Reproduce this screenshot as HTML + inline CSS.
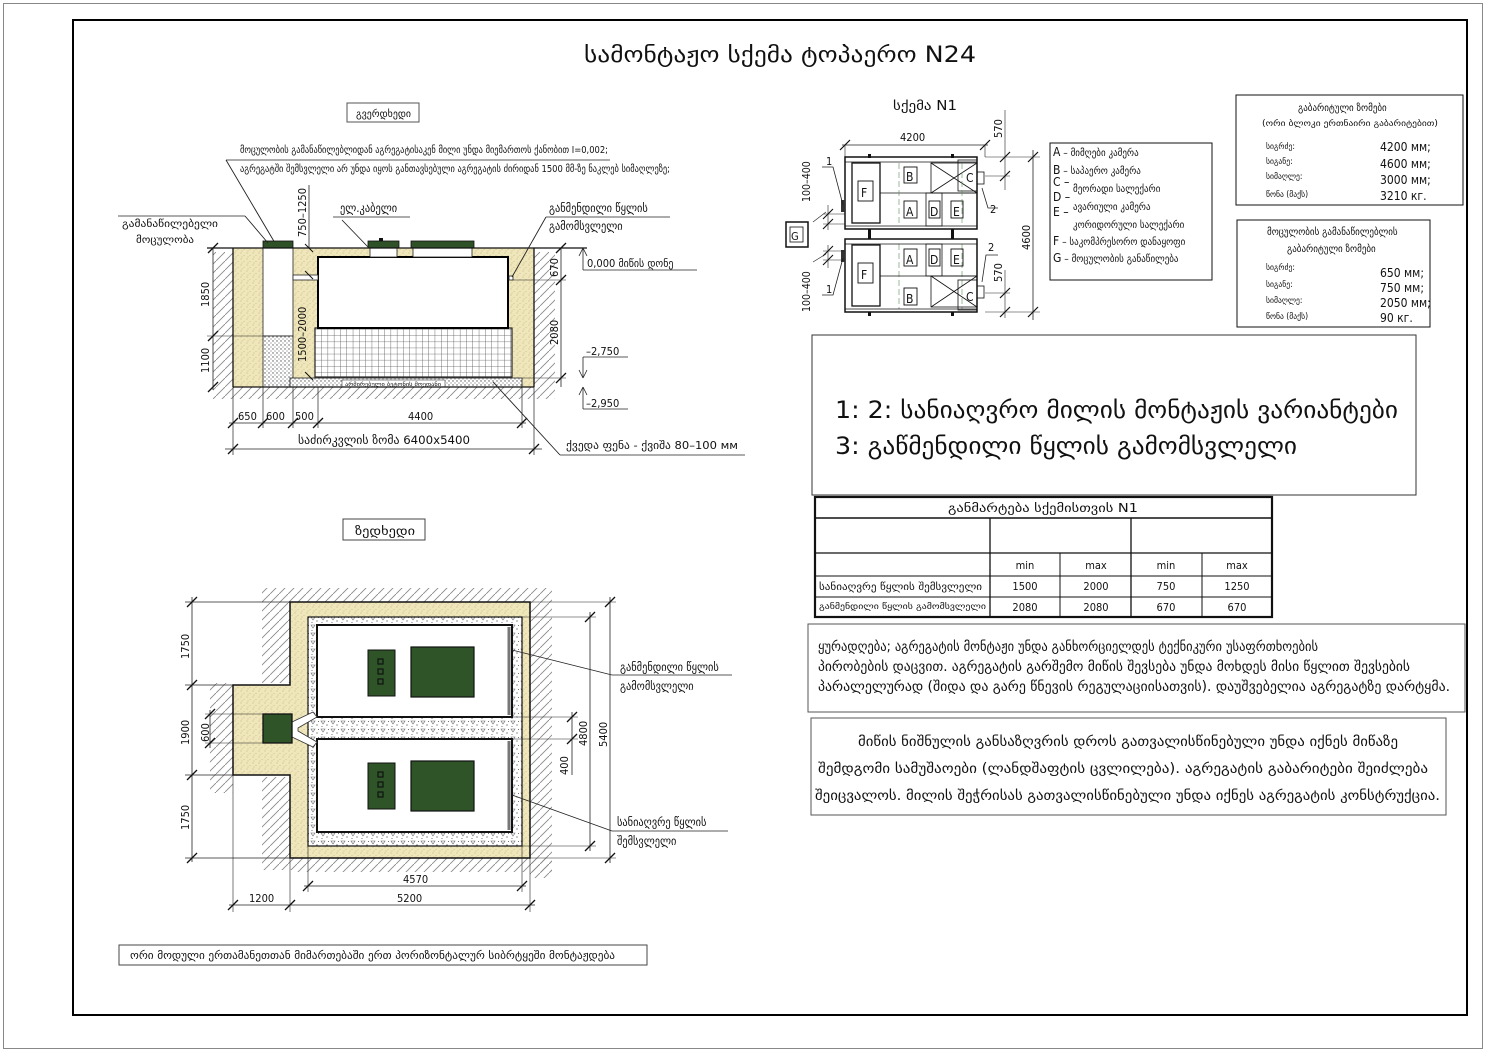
<!DOCTYPE html>
<html><head><meta charset="utf-8">
<style>
html,body{margin:0;padding:0;background:#fff;}
svg{display:block;}
text{font-family:"DejaVu Sans Condensed","DejaVu Sans","Liberation Sans",sans-serif;fill:#111;}
</style></head>
<body>
<svg width="1490" height="1053" viewBox="0 0 1490 1053" xmlns="http://www.w3.org/2000/svg">
<defs>
<pattern id="hatch" width="9" height="9" patternUnits="userSpaceOnUse">
<path d="M0,9 L9,0" stroke="#8a8a8a" stroke-width="0.9"/>
</pattern>
<pattern id="sand" width="6" height="6" patternUnits="userSpaceOnUse">
<rect width="6" height="6" fill="#efe6bb"/>
<circle cx="1" cy="1" r="0.6" fill="#c8bd86"/><circle cx="4" cy="3.5" r="0.6" fill="#d2c690"/>
<circle cx="2" cy="5" r="0.5" fill="#c0b47a"/>
</pattern>
<pattern id="gravel" width="10" height="8" patternUnits="userSpaceOnUse">
<rect width="10" height="8" fill="#fff"/>
<path d="M1,1 L5,1 L3,4 Z" fill="none" stroke="#666" stroke-width="0.6"/>
<circle cx="7" cy="5" r="0.6" fill="#444"/><circle cx="8.5" cy="1.5" r="0.5" fill="#444"/><circle cx="2" cy="6.5" r="0.5" fill="#444"/>
</pattern>
<pattern id="gravel2" width="4" height="4" patternUnits="userSpaceOnUse">
<rect width="4" height="4" fill="#fff"/>
<circle cx="1" cy="1" r="0.7" fill="#555"/><circle cx="3" cy="3" r="0.6" fill="#777"/>
</pattern>
<pattern id="grid" width="6.3" height="6.1" patternUnits="userSpaceOnUse">
<rect width="6.3" height="6.1" fill="#fff"/>
<path d="M0,0 V6.1 M0,0 H6.3" stroke="#555" stroke-width="0.8"/>
</pattern>
</defs>

<rect x="3.5" y="3.5" width="1479" height="1045" fill="none" stroke="#888" stroke-width="1"/>
<rect x="73" y="20" width="1394" height="995" fill="none" stroke="#000" stroke-width="2"/>

<text x="584" y="62" font-size="22" textLength="392" lengthAdjust="spacingAndGlyphs">სამონტაჟო სქემა ტოპაერო N24</text>

<!-- SECTION VIEW -->
<rect x="347" y="103" width="72" height="19" fill="#fff" stroke="#555" stroke-width="1"/>
<text x="356" y="117" font-size="9.5" textLength="55" lengthAdjust="spacingAndGlyphs">გვერდხედი</text>

<text x="240" y="153" font-size="10" textLength="368" lengthAdjust="spacingAndGlyphs">მოცულობის გამანაწილებლიდან აგრეგატისაკენ მილი უნდა მიემართოს ქანობით I=0,002;</text>
<text x="240" y="172" font-size="10" textLength="430" lengthAdjust="spacingAndGlyphs">აგრეგატში შემსვლელი არ უნდა იყოს განთავსებული აგრეგატის ძირიდან 1500 მმ-ზე ნაკლებ სიმაღლეზე;</text>
<line x1="226" y1="160" x2="610" y2="160" stroke="#222" stroke-width="0.8"/>
<line x1="226" y1="160" x2="298" y2="282" stroke="#222" stroke-width="0.9"/>

<rect x="213" y="252" width="20" height="135" fill="url(#hatch)"/>
<rect x="534" y="252" width="21" height="135" fill="url(#hatch)"/>
<rect x="213" y="387" width="342" height="12" fill="url(#hatch)"/>
<rect x="233" y="248" width="301" height="139" fill="url(#sand)"/>
<rect x="263" y="248" width="30" height="88" fill="#fff" stroke="#222" stroke-width="0.8"/>
<rect x="263" y="336" width="30" height="51" fill="url(#gravel2)" stroke="#222" stroke-width="0.8"/>
<rect x="290" y="378" width="232" height="9" fill="url(#gravel2)" stroke="#222" stroke-width="0.8"/>
<rect x="342" y="380" width="103" height="7" fill="#fff" stroke="#444" stroke-width="0.6"/>
<text x="345" y="386" font-size="5" textLength="96" lengthAdjust="spacingAndGlyphs">არმირებული ბეტონის მოედანი</text>
<rect x="315" y="328" width="197" height="49" fill="url(#grid)" stroke="#222" stroke-width="1.2"/>
<rect x="318" y="257" width="190" height="71" fill="#fff" stroke="#000" stroke-width="2"/>
<rect x="293" y="275" width="25" height="5" fill="#fff" stroke="#222" stroke-width="0.8"/>
<rect x="509" y="276" width="4" height="4" fill="#fff" stroke="#222" stroke-width="0.8"/>
<rect x="370" y="248" width="27" height="9" fill="#fff" stroke="#222" stroke-width="0.8"/>
<rect x="413" y="248" width="59" height="9" fill="#fff" stroke="#222" stroke-width="0.8"/>
<rect x="263" y="241" width="30" height="7" fill="#2f5128" stroke="#111" stroke-width="0.8"/>
<rect x="368" y="241" width="31" height="7" fill="#2f5128" stroke="#111" stroke-width="0.8"/>
<rect x="379" y="238" width="4" height="3" fill="#111"/>
<rect x="411" y="241" width="63" height="7" fill="#2f5128" stroke="#111" stroke-width="0.8"/>
<line x1="207" y1="248" x2="587" y2="248" stroke="#111" stroke-width="1.2"/>
<line x1="233" y1="248" x2="233" y2="387" stroke="#111" stroke-width="1.3"/>
<line x1="534" y1="248" x2="534" y2="387" stroke="#111" stroke-width="1.3"/>
<line x1="233" y1="387" x2="534" y2="387" stroke="#111" stroke-width="1.3"/>

<line x1="213" y1="248" x2="213" y2="390" stroke="#222" stroke-width="0.8"/>
<line x1="207" y1="336" x2="263" y2="336" stroke="#222" stroke-width="0.6"/>
<path d="M208,253 L218,243 M208,341 L218,331 M208,392 L218,382" stroke="#111" stroke-width="1.3"/>
<text transform="translate(209,307) rotate(-90)" font-size="11">1850</text>
<text transform="translate(209,373) rotate(-90)" font-size="11">1100</text>
<line x1="309" y1="185" x2="309" y2="248" stroke="#222" stroke-width="0.8"/>
<text transform="translate(306,237) rotate(-90)" font-size="11">750–1250</text>
<text transform="translate(306,362) rotate(-90)" font-size="11">1500–2000</text>
<path d="M305,244 L313,252 M305,271 L313,279 M305,372 L313,380" stroke="#111" stroke-width="1"/>

<line x1="561" y1="248" x2="561" y2="387" stroke="#222" stroke-width="0.8"/>
<line x1="513" y1="280" x2="566" y2="280" stroke="#222" stroke-width="0.6"/>
<line x1="522" y1="378" x2="566" y2="378" stroke="#222" stroke-width="0.6"/>
<path d="M556,253 L566,243 M556,285 L566,275 M556,383 L566,373" stroke="#111" stroke-width="1.3"/>
<text transform="translate(558,277) rotate(-90)" font-size="11">670</text>
<text transform="translate(558,345) rotate(-90)" font-size="11">2080</text>
<line x1="583" y1="248" x2="583" y2="270" stroke="#222" stroke-width="0.8"/>
<line x1="583" y1="270" x2="697" y2="270" stroke="#222" stroke-width="0.8"/>
<path d="M583,248 L579,256 M583,248 L587,256" stroke="#222" stroke-width="0.8" fill="none"/>
<text x="587" y="267" font-size="11">0,000  მიწის დონე</text>
<line x1="583" y1="357" x2="583" y2="378" stroke="#222" stroke-width="0.8"/>
<line x1="583" y1="357" x2="628" y2="357" stroke="#222" stroke-width="0.8"/>
<path d="M583,378 L579,370 M583,378 L587,370" stroke="#222" stroke-width="0.8" fill="none"/>
<text x="586" y="355" font-size="11">–2,750</text>
<line x1="583" y1="387" x2="583" y2="409" stroke="#222" stroke-width="0.8"/>
<line x1="583" y1="409" x2="628" y2="409" stroke="#222" stroke-width="0.8"/>
<path d="M583,387 L579,395 M583,387 L587,395" stroke="#222" stroke-width="0.8" fill="none"/>
<text x="586" y="407" font-size="11">–2,950</text>

<path d="M233,387 V455 M263,387 V428 M293,387 V428 M318,387 V428 M522,387 V428 M534,387 V455" stroke="#222" stroke-width="0.7"/>
<line x1="229" y1="423" x2="526" y2="423" stroke="#222" stroke-width="0.8"/>
<path d="M228,428 L238,418 M258,428 L268,418 M288,428 L298,418 M313,428 L323,418 M517,428 L527,418" stroke="#111" stroke-width="1.3"/>
<text x="238" y="420" font-size="11">650</text>
<text x="266" y="420" font-size="11">600</text>
<text x="295" y="420" font-size="11">500</text>
<text x="408" y="420" font-size="11">4400</text>
<line x1="225" y1="449" x2="542" y2="449" stroke="#222" stroke-width="0.8"/>
<path d="M228,454 L238,444 M529,454 L539,444" stroke="#111" stroke-width="1.3"/>
<text x="298" y="444" font-size="11.5" textLength="172" lengthAdjust="spacingAndGlyphs">საძირკვლის ზომა 6400x5400</text>

<text x="549" y="212" font-size="11.5">განმენდილი წყლის</text>
<text x="549" y="230" font-size="11.5">გამომსვლელი</text>
<line x1="546" y1="217" x2="670" y2="217" stroke="#222" stroke-width="0.8"/>
<line x1="546" y1="217" x2="512" y2="277" stroke="#222" stroke-width="0.9"/>
<text x="340" y="212" font-size="11.5">ელ.კაბელი</text>
<line x1="333" y1="217" x2="410" y2="217" stroke="#222" stroke-width="0.8"/>
<line x1="342" y1="220" x2="368" y2="247" stroke="#222" stroke-width="0.9"/>
<text x="122" y="227" font-size="10" textLength="96" lengthAdjust="spacingAndGlyphs">გამანაწილებელი</text>
<text x="136" y="243" font-size="10" textLength="58" lengthAdjust="spacingAndGlyphs">მოცულობა</text>
<line x1="118" y1="216" x2="245" y2="216" stroke="#222" stroke-width="0.8"/>
<line x1="245" y1="216" x2="268" y2="243" stroke="#222" stroke-width="0.9"/>
<text x="566" y="449" font-size="11" textLength="172" lengthAdjust="spacingAndGlyphs">ქვედა ფენა - ქვიშა 80–100 мм</text>
<line x1="560" y1="455" x2="745" y2="455" stroke="#222" stroke-width="0.8"/>
<line x1="560" y1="455" x2="493" y2="382" stroke="#222" stroke-width="0.9"/>

<!-- PLAN VIEW -->
<rect x="343" y="519" width="82" height="21" fill="#fff" stroke="#444" stroke-width="1"/>
<text x="355" y="535" font-size="12" textLength="60" lengthAdjust="spacingAndGlyphs">ზედხედი</text>

<rect x="262" y="588" width="30" height="95" fill="url(#hatch)"/>
<rect x="210" y="683" width="23" height="110" fill="url(#hatch)"/>
<rect x="262" y="777" width="30" height="93" fill="url(#hatch)"/>
<rect x="530" y="588" width="22" height="290" fill="url(#hatch)"/>
<rect x="292" y="588" width="238" height="14" fill="url(#hatch)"/>
<rect x="292" y="858" width="260" height="14" fill="url(#hatch)"/>
<path d="M290,602 H530 V858 H290 V775 H233 V685 H290 Z" fill="url(#sand)" stroke="#111" stroke-width="1.5"/>
<rect x="308" y="617" width="214" height="229" fill="url(#gravel)" stroke="#111" stroke-width="1.2"/>
<rect x="317" y="625" width="195" height="92" fill="#fff" stroke="#111" stroke-width="2"/>
<rect x="317" y="739" width="195" height="93" fill="#fff" stroke="#111" stroke-width="2"/>
<line x1="509" y1="627" x2="509" y2="715" stroke="#777" stroke-width="3"/>
<line x1="509" y1="741" x2="509" y2="830" stroke="#777" stroke-width="3"/>
<rect x="368" y="650" width="27" height="46" fill="#2f5428" stroke="#111" stroke-width="1"/>
<rect x="378" y="659" width="5" height="5" fill="none" stroke="#111" stroke-width="1.2"/>
<rect x="378" y="669" width="5" height="5" fill="none" stroke="#111" stroke-width="1.2"/>
<rect x="378" y="679" width="5" height="5" fill="none" stroke="#111" stroke-width="1.2"/>
<rect x="411" y="647" width="63" height="50" fill="#2f5428" stroke="#111" stroke-width="1.2"/>
<rect x="368" y="763" width="27" height="46" fill="#2f5428" stroke="#111" stroke-width="1"/>
<rect x="378" y="772" width="5" height="5" fill="none" stroke="#111" stroke-width="1.2"/>
<rect x="378" y="782" width="5" height="5" fill="none" stroke="#111" stroke-width="1.2"/>
<rect x="378" y="792" width="5" height="5" fill="none" stroke="#111" stroke-width="1.2"/>
<rect x="411" y="761" width="63" height="50" fill="#2f5428" stroke="#111" stroke-width="1.2"/>
<path d="M292,722 L313,712 L317,717 L298,728 L298,731 L317,742 L313,747 L292,737 Z" fill="#fff" stroke="#333" stroke-width="0.8"/>
<rect x="263" y="714" width="29" height="29" fill="#2f5428" stroke="#111" stroke-width="1.3"/>

<line x1="192" y1="597" x2="192" y2="862" stroke="#222" stroke-width="0.8"/>
<path d="M185,602 H290 M185,685 H233 M185,775 H233 M185,858 H290" stroke="#222" stroke-width="0.7"/>
<path d="M187,607 L197,597 M187,690 L197,680 M187,780 L197,770 M187,863 L197,853" stroke="#111" stroke-width="1.3"/>
<text transform="translate(189,659) rotate(-90)" font-size="11">1750</text>
<text transform="translate(189,745) rotate(-90)" font-size="11">1900</text>
<text transform="translate(189,830) rotate(-90)" font-size="11">1750</text>
<line x1="210" y1="710" x2="210" y2="748" stroke="#222" stroke-width="0.8"/>
<path d="M205,714 H263 M205,743 H263" stroke="#222" stroke-width="0.6"/>
<path d="M205,719 L215,709 M205,748 L215,738" stroke="#111" stroke-width="1.3"/>
<text transform="translate(209,742) rotate(-90)" font-size="11">600</text>

<path d="M530,602 H616 M522,617 H596 M522,846 H596 M530,858 H616 M512,717 H578 M512,739 H578" stroke="#222" stroke-width="0.6"/>
<line x1="610" y1="597" x2="610" y2="863" stroke="#222" stroke-width="0.8"/>
<line x1="590" y1="612" x2="590" y2="851" stroke="#222" stroke-width="0.8"/>
<line x1="572" y1="712" x2="572" y2="775" stroke="#222" stroke-width="0.8"/>
<path d="M605,607 L615,597 M605,863 L615,853 M585,622 L595,612 M585,851 L595,841 M567,722 L577,712 M567,744 L577,734" stroke="#111" stroke-width="1.3"/>
<text transform="translate(607,747) rotate(-90)" font-size="11">5400</text>
<text transform="translate(587,746) rotate(-90)" font-size="11">4800</text>
<text transform="translate(568,775) rotate(-90)" font-size="11">400</text>

<path d="M233,775 V912 M290,858 V912 M308,846 V892 M522,846 V892 M530,858 V912" stroke="#222" stroke-width="0.6"/>
<line x1="304" y1="886" x2="526" y2="886" stroke="#222" stroke-width="0.8"/>
<line x1="229" y1="905" x2="535" y2="905" stroke="#222" stroke-width="0.8"/>
<path d="M303,891 L313,881 M517,891 L527,881 M228,910 L238,900 M285,910 L295,900 M525,910 L535,900" stroke="#111" stroke-width="1.3"/>
<text x="403" y="883" font-size="11">4570</text>
<text x="397" y="902" font-size="11">5200</text>
<text x="249" y="902" font-size="11">1200</text>

<text x="620" y="671" font-size="11.5">განმენდილი წყლის</text>
<text x="620" y="690" font-size="11.5">გამომსვლელი</text>
<line x1="612" y1="675" x2="732" y2="675" stroke="#222" stroke-width="0.8"/>
<line x1="612" y1="675" x2="512" y2="650" stroke="#222" stroke-width="0.9"/>
<text x="617" y="826" font-size="11.5">სანიაღვრე წყლის</text>
<text x="617" y="845" font-size="11.5">შემსვლელი</text>
<line x1="612" y1="831" x2="728" y2="831" stroke="#222" stroke-width="0.8"/>
<line x1="612" y1="831" x2="512" y2="795" stroke="#222" stroke-width="0.9"/>

<rect x="119" y="945" width="528" height="20" fill="#fff" stroke="#444" stroke-width="1"/>
<text x="130" y="959" font-size="10.5" textLength="485" lengthAdjust="spacingAndGlyphs">ორი მოდული ერთამანეთთან მიმართებაში ერთ პორიზონტალურ სიბრტყეში მონტაჟდება</text>

<!-- SCHEME N1 -->
<text x="893" y="110" font-size="13" textLength="64" lengthAdjust="spacingAndGlyphs">სქემა N1</text>
<line x1="842" y1="145" x2="988" y2="145" stroke="#222" stroke-width="0.8"/>
<path d="M840,150 L850,140 M980,150 L990,140" stroke="#111" stroke-width="1.2"/>
<line x1="845" y1="145" x2="845" y2="157" stroke="#222" stroke-width="0.6"/>
<line x1="985" y1="145" x2="985" y2="157" stroke="#222" stroke-width="0.6"/>
<text x="900" y="141" font-size="11">4200</text>
<line x1="1005" y1="110" x2="1005" y2="190" stroke="#222" stroke-width="0.6"/>
<text transform="translate(1002,138) rotate(-90)" font-size="11">570</text>
<path d="M985,157 H1040 M985,176 H1010 M985,312 H1040 M985,293 H1010" stroke="#222" stroke-width="0.6"/>
<path d="M1000,162 L1010,152 M1000,181 L1010,171 M1000,298 L1010,288 M1000,317 L1010,307" stroke="#111" stroke-width="1.2"/>
<line x1="1005" y1="270" x2="1005" y2="318" stroke="#222" stroke-width="0.6"/>
<text transform="translate(1002,282) rotate(-90)" font-size="11">570</text>
<line x1="1033" y1="150" x2="1033" y2="320" stroke="#222" stroke-width="0.8"/>
<path d="M1028,162 L1038,152 M1028,317 L1038,307" stroke="#111" stroke-width="1.2"/>
<text transform="translate(1030,250) rotate(-90)" font-size="11">4600</text>

<g stroke="#111" fill="none">
<rect x="845" y="157" width="132" height="72" stroke-width="1.5"/>
<line x1="845" y1="162" x2="977" y2="162" stroke-width="0.8"/>
<line x1="845" y1="226" x2="977" y2="226" stroke-width="0.8"/>
<rect x="852" y="163" width="28" height="60" stroke-width="1.3"/>
<line x1="880" y1="193" x2="977" y2="193" stroke-width="0.8"/>
<rect x="931" y="163" width="46" height="30" stroke-width="0.8"/>
<path d="M931,163 L977,193 M931,193 L977,163" stroke-width="0.8"/>
<rect x="958" y="160" width="19" height="31" stroke-width="0.8"/>
<rect x="977" y="172" width="7" height="12" stroke-width="0.8"/>
<rect x="858" y="181" width="15" height="20" stroke-width="0.9"/>
<rect x="904" y="167" width="13" height="16" stroke-width="0.9"/>
<rect x="904" y="201" width="13" height="17" stroke-width="0.9"/>
<rect x="926" y="193" width="16" height="33" stroke-width="0.8"/>
<rect x="929" y="201" width="11" height="17" stroke-width="0.9"/>
<rect x="951" y="201" width="12" height="17" stroke-width="0.9"/>
</g>
<path d="M899,163 V226 M962,163 V226 M899,244 V309 M962,244 V309" stroke="#5a8a5a" stroke-width="0.6" stroke-dasharray="6,3"/>
<text x="861" y="197" font-size="12">F</text>
<text x="906" y="181" font-size="12">B</text>
<text x="906" y="216" font-size="12">A</text>
<text x="930" y="216" font-size="12">D</text>
<text x="953" y="216" font-size="12">E</text>
<text x="966" y="182" font-size="12">C</text>

<g stroke="#111" fill="none">
<rect x="845" y="239" width="132" height="73" stroke-width="1.5"/>
<line x1="845" y1="244" x2="977" y2="244" stroke-width="0.8"/>
<line x1="845" y1="309" x2="977" y2="309" stroke-width="0.8"/>
<rect x="852" y="245" width="28" height="61" stroke-width="1.3"/>
<line x1="880" y1="276" x2="977" y2="276" stroke-width="0.8"/>
<rect x="931" y="276" width="46" height="31" stroke-width="0.8"/>
<path d="M931,276 L977,307 M931,307 L977,276" stroke-width="0.8"/>
<rect x="958" y="280" width="19" height="30" stroke-width="0.8"/>
<rect x="977" y="286" width="7" height="12" stroke-width="0.8"/>
<rect x="858" y="263" width="15" height="20" stroke-width="0.9"/>
<rect x="904" y="249" width="13" height="17" stroke-width="0.9"/>
<rect x="926" y="244" width="16" height="32" stroke-width="0.8"/>
<rect x="929" y="249" width="11" height="17" stroke-width="0.9"/>
<rect x="951" y="249" width="12" height="17" stroke-width="0.9"/>
<rect x="904" y="288" width="13" height="17" stroke-width="0.9"/>
</g>
<text x="861" y="279" font-size="12">F</text>
<text x="906" y="264" font-size="12">A</text>
<text x="930" y="264" font-size="12">D</text>
<text x="953" y="264" font-size="12">E</text>
<text x="906" y="303" font-size="12">B</text>
<text x="966" y="301" font-size="12">C</text>
<rect x="868" y="154" width="3" height="4" fill="#111"/><rect x="951" y="154" width="3" height="4" fill="#111"/>
<rect x="868" y="229" width="3" height="10" fill="#111"/><rect x="951" y="229" width="3" height="10" fill="#111"/>
<rect x="868" y="312" width="3" height="4" fill="#111"/><rect x="951" y="312" width="3" height="4" fill="#111"/>

<rect x="841" y="200" width="4" height="12" fill="#333"/>
<rect x="841" y="250" width="4" height="12" fill="#333"/>
<path d="M822,167 H833 L843,205" stroke="#222" stroke-width="0.8" fill="none"/>
<text x="826" y="165" font-size="11">1</text>
<path d="M822,295 H833 L843,258" stroke="#222" stroke-width="0.8" fill="none"/>
<text x="826" y="293" font-size="11">1</text>
<path d="M982,188 L988,208 H998" stroke="#222" stroke-width="0.8" fill="none"/>
<text x="990" y="213" font-size="11">2</text>
<path d="M982,282 L986,255 H998" stroke="#222" stroke-width="0.8" fill="none"/>
<text x="988" y="251" font-size="11">2</text>
<path d="M823,214 H845 M823,224 H845 M823,251 H845 M823,260 H845" stroke="#222" stroke-width="0.6"/>
<line x1="828" y1="205" x2="828" y2="230" stroke="#222" stroke-width="0.6"/>
<line x1="828" y1="245" x2="828" y2="268" stroke="#222" stroke-width="0.6"/>
<path d="M823,219 L833,209 M823,229 L833,219 M823,256 L833,246 M823,265 L833,255" stroke="#111" stroke-width="1.1"/>
<path d="M813,222 L826,212 M813,262 L826,254" stroke="#222" stroke-width="0.6"/>
<text transform="translate(810,202) rotate(-90)" font-size="10.5">100–400</text>
<text transform="translate(810,312) rotate(-90)" font-size="10.5">100–400</text>
<rect x="786" y="222" width="22" height="25" fill="#fff" stroke="#111" stroke-width="1.5"/>
<rect x="790" y="227" width="13" height="15" fill="none" stroke="#111" stroke-width="0.8"/>
<text x="791" y="240" font-size="11">G</text>

<rect x="1050" y="143" width="162" height="137" fill="#fff" stroke="#111" stroke-width="1"/>
<g font-size="10">
<text x="1053" y="156"><tspan font-size="12">A</tspan> – მიმღები კამერა</text>
<text x="1053" y="174"><tspan font-size="12">B</tspan> – საპაერო კამერა</text>
<text x="1053" y="186" font-size="12">C –</text>
<text x="1073" y="192">მეორადი სალექარი</text>
<text x="1053" y="201" font-size="12">D –</text>
<text x="1073" y="210">ავარიული კამერა</text>
<text x="1053" y="216" font-size="12">E –</text>
<text x="1073" y="228">კორიდორული სალექარი</text>
<text x="1053" y="245"><tspan font-size="12">F</tspan> – საკომპრესორო დანაყოფი</text>
<text x="1053" y="262"><tspan font-size="12">G</tspan> – მოცულობის განაწილება</text>
</g>

<rect x="1236" y="95" width="227" height="110" fill="#fff" stroke="#111" stroke-width="1"/>
<text x="1298" y="111" font-size="10">გაბარიტული ზომები</text>
<text x="1262" y="126" font-size="8.5" textLength="176" lengthAdjust="spacingAndGlyphs">(ორი ბლოკი ერთნაირი გაბარიტებით)</text>
<g font-size="8.5"><text x="1266" y="149">სიგრძე:</text><text x="1266" y="164">სიგანე:</text><text x="1266" y="179">სიმაღლე:</text><text x="1266" y="197">წონა (მაქს)</text></g>
<g font-size="12"><text x="1380" y="151">4200 мм;</text><text x="1380" y="168">4600 мм;</text><text x="1380" y="184">3000 мм;</text><text x="1380" y="200">3210 кг.</text></g>

<rect x="1237" y="220" width="193" height="107" fill="#fff" stroke="#111" stroke-width="1"/>
<text x="1267" y="235" font-size="10">მოცულობის გამანაწილებლის</text>
<text x="1287" y="252" font-size="10">გაბარიტული ზომები</text>
<g font-size="8.5"><text x="1266" y="270">სიგრძე:</text><text x="1266" y="287">სიგანე:</text><text x="1266" y="303">სიმაღლე:</text><text x="1266" y="319">წონა (მაქს)</text></g>
<g font-size="12"><text x="1380" y="277">650 мм;</text><text x="1380" y="292">750 мм;</text><text x="1380" y="307">2050 мм;</text><text x="1380" y="322">90 кг.</text></g>

<rect x="812" y="335" width="604" height="160" fill="#fff" stroke="#333" stroke-width="1"/>
<text x="835" y="418" font-size="24" textLength="563" lengthAdjust="spacingAndGlyphs">1: 2: სანიაღვრო მილის მონტაჟის ვარიანტები</text>
<text x="835" y="454" font-size="24" textLength="462" lengthAdjust="spacingAndGlyphs">3: გაწმენდილი წყლის გამომსვლელი</text>

<g stroke="#111" fill="none">
<rect x="815" y="497" width="457" height="120" stroke-width="2.2"/>
<line x1="815" y1="518" x2="1272" y2="518" stroke-width="1.5"/>
<line x1="815" y1="553" x2="1272" y2="553" stroke-width="1.3"/>
<line x1="815" y1="576" x2="1272" y2="576" stroke-width="1"/>
<line x1="815" y1="597" x2="1272" y2="597" stroke-width="1"/>
<line x1="990" y1="518" x2="990" y2="617" stroke-width="1.3"/>
<line x1="1131" y1="518" x2="1131" y2="617" stroke-width="1.3"/>
<line x1="1060" y1="553" x2="1060" y2="617" stroke-width="1"/>
<line x1="1202" y1="553" x2="1202" y2="617" stroke-width="1"/>
</g>
<text x="948" y="512" font-size="12" textLength="190" lengthAdjust="spacingAndGlyphs">განმარტება სქემისთვის N1</text>
<g font-size="11" text-anchor="middle">
<text x="1025" y="569">min</text><text x="1096" y="569">max</text><text x="1166" y="569">min</text><text x="1237" y="569">max</text>
<text x="1025" y="590">1500</text><text x="1096" y="590">2000</text><text x="1166" y="590">750</text><text x="1237" y="590">1250</text>
<text x="1025" y="611">2080</text><text x="1096" y="611">2080</text><text x="1166" y="611">670</text><text x="1237" y="611">670</text>
</g>
<text x="819" y="590" font-size="9.5" textLength="163" lengthAdjust="spacingAndGlyphs">სანიაღვრე წყლის შემსვლელი</text>
<text x="819" y="609" font-size="8.5" textLength="167" lengthAdjust="spacingAndGlyphs">განმენდილი წყლის გამომსვლელი</text>

<rect x="808" y="624" width="657" height="88" fill="#fff" stroke="#555" stroke-width="1"/>
<g font-size="14">
<text x="818" y="651" textLength="500" lengthAdjust="spacingAndGlyphs">ყურადღება; აგრეგატის მონტაჟი უნდა განხორციელდეს ტექნიკური უსაფრთხოების</text>
<text x="818" y="671" textLength="592" lengthAdjust="spacingAndGlyphs">პირობების დაცვით. აგრეგატის გარშემო მიწის შევსება უნდა მოხდეს მისი წყლით შევსების</text>
<text x="818" y="691" textLength="632" lengthAdjust="spacingAndGlyphs">პარალელურად (შიდა და გარე წნევის რეგულაციისათვის). დაუშვებელია აგრეგატზე დარტყმა.</text>
</g>
<rect x="811" y="718" width="635" height="97" fill="#fff" stroke="#555" stroke-width="1"/>
<g font-size="14">
<text x="858" y="746" textLength="540" lengthAdjust="spacingAndGlyphs">მიწის ნიშნულის განსაზღვრის დროს გათვალისწინებული უნდა იქნეს მიწაზე</text>
<text x="818" y="773" textLength="610" lengthAdjust="spacingAndGlyphs">შემდგომი სამუშაოები (ლანდშაფტის ცვლილება). აგრეგატის გაბარიტები შეიძლება</text>
<text x="815" y="800" textLength="625" lengthAdjust="spacingAndGlyphs">შეიცვალოს. მილის შეჭრისას გათვალისწინებული უნდა იქნეს აგრეგატის  კონსტრუქცია.</text>
</g>
</svg>
</body></html>
